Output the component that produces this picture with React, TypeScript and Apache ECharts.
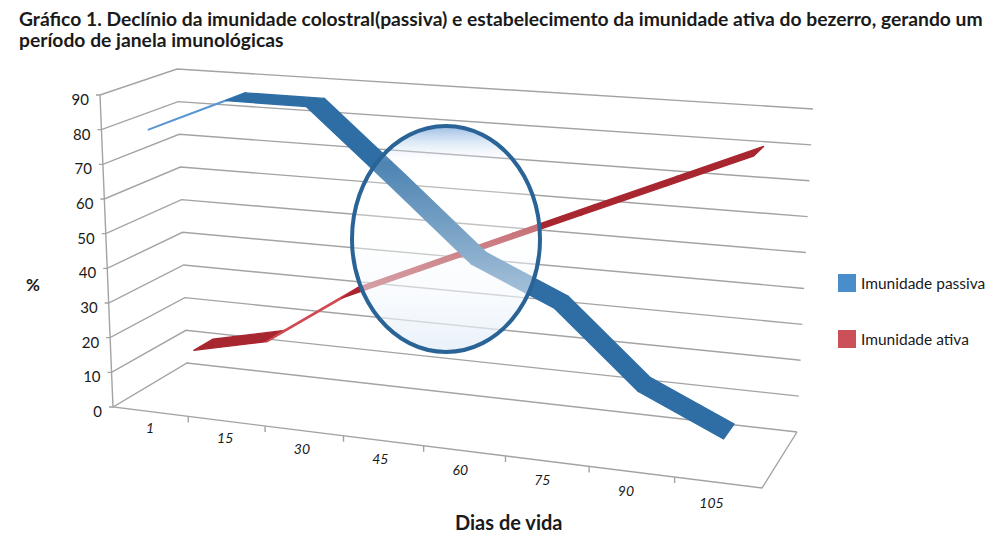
import { useEffect, useRef } from 'react';
import * as echarts from 'echarts';

const days = ['1', '15', '30', '45', '60', '75', '90', '105'];
const passiva = [80, 90, 90, 70, 50, 40, 20, 10];
const ativa = [10, 15, 30, 40, 50, 60, 70, 80];
const yTicks = [0, 10, 20, 30, 40, 50, 60, 70, 80, 90];

// screen corners of the 3d box: f/b = front/back, l/r = left/right, b/t = bottom/top
const BOX = {
  flb: [113, 407], flt: [100, 95], frb: [762, 488], frt: [776, 145],
  blb: [187, 363], blt: [177, 69], brb: [797, 432], brt: [813, 109],
};
const PERSP = 0.918; // foreshortening along the category direction
const GRID = '#a3a3a3';
const FONT = 'Lato, "Open Sans", sans-serif';
const INK = '#1a1a1a';

type Pt = number[];
const lerp = (a: Pt, b: Pt, t: number): Pt => [a[0] + (b[0] - a[0]) * t, a[1] + (b[1] - a[1]) * t];

// u: along categories, v: value (0..1), w: depth (0 front, 1 back)
function project(u: number, v: number, w: number): Pt {
  const s = (u * PERSP) / (1 + u * (PERSP - 1));
  const f = lerp(lerp(BOX.flb, BOX.frb, s), lerp(BOX.flt, BOX.frt, s), v);
  const b = lerp(lerp(BOX.blb, BOX.brb, s), lerp(BOX.blt, BOX.brt, s), v);
  return lerp(f, b, w);
}

function toUV(params: any, p: Pt): Pt {
  const cs = params.coordSys;
  return [(p[0] - cs.x) / cs.width, (cs.y + cs.height - p[1]) / cs.height];
}

const segments = (vals: number[]) => vals.slice(0, -1).map((v, i) => [i, v, i + 1, vals[i + 1]]);

function ribbon(w0: number, w1: number, top: string, under: string) {
  return (params: any, api: any) => {
    const [u0, v0] = toUV(params, api.coord([api.value(0), api.value(1)]));
    const [u1, v1] = toUV(params, api.coord([api.value(2), api.value(3)]));
    const pts = [project(u0, v0, w0), project(u1, v1, w0), project(u1, v1, w1), project(u0, v0, w1)];
    const ax = pts[1][0] - pts[0][0];
    const ay = pts[1][1] - pts[0][1];
    const dx = pts[3][0] - pts[0][0];
    const dy = pts[3][1] - pts[0][1];
    const cross = ax * dy - ay * dx;
    // thickness of the strip as seen on screen; nearly edge-on strips show their lighter side
    const thick = Math.abs(cross) / Math.hypot(ax, ay);
    const isTop = cross < 0 && thick > 2;
    const color = isTop ? top : under;
    return {
      type: 'polygon',
      shape: { points: pts },
      style: { fill: color, stroke: color, lineWidth: isTop ? 1.3 : 1.8, lineJoin: 'round' },
    };
  };
}

const renderWall = (params: any, api: any) => {
  const [, v] = toUV(params, api.coord([0, api.value(1)]));
  const f = project(0, v, 0);
  const b = project(0, v, 1);
  const r = project(1, v, 1);
  const children: any[] = [
    {
      type: 'polyline',
      shape: { points: [[f[0] - 4, f[1]], f, b, r] },
      style: { stroke: GRID, lineWidth: 1.4, fill: 'none' },
    },
    {
      type: 'text',
      x: f[0] - 11,
      y: f[1] + 4,
      style: {
        text: String(yTicks[params.dataIndex]),
        fontSize: 15,
        fontFamily: FONT,
        fill: INK,
        align: 'right',
        verticalAlign: 'middle',
      },
    },
  ];
  if (params.dataIndex === 0) {
    children.push({
      type: 'polyline',
      shape: { points: [project(0, 1, 0), f, project(1, 0, 0), project(1, 0, 1)] },
      style: { stroke: GRID, lineWidth: 1.4, fill: 'none' },
    });
  }
  return { type: 'group', children };
};

const renderCat = (params: any, api: any) => {
  const cs = params.coordSys;
  const p = api.coord([api.value(0), 0]);
  const half = api.size([1, 0])[0] / 2;
  const uc = (p[0] - cs.x) / cs.width;
  const ur = (p[0] + half - cs.x) / cs.width;
  const c = project(uc, 0, 0);
  const children: any[] = [
    {
      type: 'text',
      x: c[0] - 7 * uc,
      y: c[1] + 16 + 4 * uc,
      style: {
        text: days[params.dataIndex],
        fontSize: 14,
        fontStyle: 'italic',
        fontFamily: FONT,
        fill: INK,
        align: 'center',
        verticalAlign: 'middle',
      },
    },
  ];
  if (params.dataIndex < days.length - 1) {
    const t = project(ur, 0, 0);
    children.push({
      type: 'line',
      shape: { x1: t[0], y1: t[1], x2: t[0], y2: t[1] + 6 },
      style: { stroke: GRID, lineWidth: 1.4 },
    });
  }
  return { type: 'group', children };
};

export default function App() {
  const chartRef = useRef<HTMLDivElement>(null);

  useEffect(() => {
    if (!chartRef.current) return;
    const chart = echarts.init(chartRef.current, undefined, { renderer: 'svg' });

    const option: any = {
      animation: false,
      backgroundColor: '#fff',
      title: {
        left: 14,
        top: 3,
        text:
          'Gráfico 1. Declínio da imunidade colostral(passiva) e estabelecimento da imunidade ativa do bezerro, gerando um\nperíodo de janela imunológicas',
        textStyle: { fontSize: 19.3, fontWeight: 'bold', fontFamily: FONT, color: INK, lineHeight: 21 },
      },
      legend: {
        orient: 'vertical',
        left: 838,
        top: 274,
        padding: 0,
        itemWidth: 18,
        itemHeight: 18,
        itemGap: 38,
        icon: 'rect',
        selectedMode: false,
        textStyle: { fontSize: 15.5, fontFamily: FONT, color: INK },
        data: [
          { name: 'Imunidade passiva', itemStyle: { color: '#4a8dcb' } },
          { name: 'Imunidade ativa', itemStyle: { color: '#cc5058' } },
        ],
      },
      grid: { left: 0, right: 0, top: 0, bottom: 0 },
      xAxis: { type: 'category', data: days, show: false },
      yAxis: { type: 'value', min: 0, max: 90, interval: 10, show: false },
      graphic: [
        {
          type: 'text',
          left: 26,
          top: 276,
          style: { text: '%', fontSize: 17, fontWeight: 'bold', fontFamily: FONT, fill: INK },
        },
        {
          type: 'text',
          left: 455,
          top: 512,
          style: { text: 'Dias de vida', fontSize: 20, fontWeight: 'bold', fontFamily: FONT, fill: INK },
        },
        {
          // magnifying glass over the crossing
          type: 'ellipse',
          z: 100,
          shape: { cx: 446, cy: 239, rx: 94, ry: 113 },
          style: {
            fill: new echarts.graphic.LinearGradient(0, 0, 0, 1, [
              { offset: 0, color: 'rgba(100,150,210,0.65)' },
              { offset: 0.07, color: 'rgba(185,210,238,0.5)' },
              { offset: 0.16, color: 'rgba(255,255,255,0.15)' },
              { offset: 0.45, color: 'rgba(255,255,255,0.35)' },
              { offset: 0.75, color: 'rgba(244,248,253,0.6)' },
              { offset: 1, color: 'rgba(225,236,248,0.75)' },
            ]),
            stroke: '#2a6496',
            lineWidth: 4,
          },
        },
      ],
      series: [
        {
          name: 'walls',
          type: 'custom',
          z: 1,
          silent: true,
          data: yTicks.map((t) => [0, t]),
          renderItem: renderWall,
        },
        {
          name: 'cats',
          type: 'custom',
          z: 1,
          silent: true,
          data: days.map((d, i) => [i, 0]),
          renderItem: renderCat,
        },
        {
          name: 'Imunidade ativa',
          type: 'custom',
          z: 2,
          data: segments(ativa),
          itemStyle: { color: '#cc5058' },
          renderItem: ribbon(0.62, 0.88, '#a8262f', '#d04a52'),
        },
        {
          name: 'Imunidade passiva',
          type: 'custom',
          z: 3,
          data: segments(passiva),
          itemStyle: { color: '#4a8dcb' },
          renderItem: ribbon(0.11, 0.39, '#2e6ea5', '#5a96d2'),
        },
      ],
    };

    chart.setOption(option);
    return () => {
      chart.dispose();
    };
  }, []);

  return (
    <div
      ref={chartRef}
      style={{ position: 'fixed', left: 0, top: 0, width: 1006, height: 545, background: '#fff' }}
    />
  );
}
